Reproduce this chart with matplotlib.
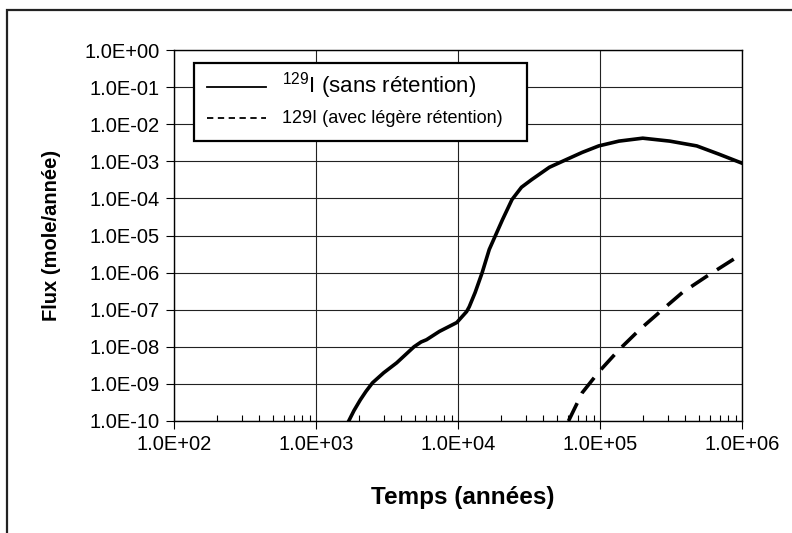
import matplotlib
matplotlib.use("Agg")
import matplotlib.pyplot as plt
from matplotlib.legend_handler import HandlerLine2D
from matplotlib.lines import Line2D
from matplotlib.patches import Rectangle
from matplotlib.ticker import FuncFormatter, LogLocator, NullLocator

plt.rcParams["font.family"] = ["Liberation Sans", "DejaVu Sans"]
plt.rcParams["mathtext.default"] = "regular"

# sans retention (years, mole/year)
t_sans = [1700, 1850, 2050, 2250, 2500, 3000, 3700, 4300, 4900, 5500, 6000,
          7400, 9800, 11500, 12000, 13200, 14800, 16600, 18200, 20600, 24000,
          28000, 33000, 44000, 57500, 75000, 98000, 136000, 200000, 310000,
          480000, 690000, 1000000]
flux_sans = [1.0e-10, 1.9e-10, 3.7e-10, 6.3e-10, 1.07e-9, 2.0e-9, 3.7e-9,
             6.3e-9, 1.0e-8, 1.35e-8, 1.55e-8, 2.6e-8, 4.5e-8, 8.9e-8, 1.2e-7,
             2.9e-7, 1.0e-6, 4.2e-6, 9.3e-6, 2.7e-5, 9.3e-5, 2.0e-4, 3.2e-4,
             6.9e-4, 1.1e-3, 1.74e-3, 2.6e-3, 3.5e-3, 4.2e-3, 3.5e-3, 2.6e-3,
             1.55e-3, 8.9e-4]

# avec legere retention
t_avec = [60000, 75000, 98000, 136000, 190000, 275000, 380000, 560000, 1000000]
flux_avec = [1.0e-10, 5.8e-10, 2.1e-9, 8.3e-9, 2.9e-8, 1.0e-7, 2.9e-7, 7.8e-7, 3.2e-6]

label_sans = r"$^{129}$I (sans rétention)"
label_avec = "129I (avec légère rétention)"

fig = plt.figure(figsize=(7.92, 5.33), dpi=100)
ax = fig.add_axes([174 / 792, 1 - 421 / 533, 568 / 792, 371 / 533])

ax.plot(t_sans, flux_sans, color="k", lw=2.6, solid_joinstyle="round")
ax.plot(t_avec, flux_avec, color="k", lw=2.6, dashes=(5.5, 3))

ax.set_xscale("log")
ax.set_yscale("log")
ax.set_xlim(1e2, 1e6)
ax.set_ylim(1e-10, 1e0)

fmt = FuncFormatter(lambda v, p: f"{v:.1E}")
ax.xaxis.set_major_locator(LogLocator(base=10, numticks=10))
ax.xaxis.set_minor_locator(LogLocator(base=10, subs=range(2, 10), numticks=20))
ax.xaxis.set_major_formatter(fmt)
ax.yaxis.set_major_locator(LogLocator(base=10, numticks=20))
ax.yaxis.set_minor_locator(NullLocator())
ax.yaxis.set_major_formatter(fmt)

ax.tick_params(axis="both", which="major", direction="out", length=6, width=0.8,
               labelsize=14.5, pad=4)
ax.tick_params(axis="x", which="minor", direction="in", length=4, width=0.8)
ax.grid(True, which="major", color="#222222", lw=0.8)
for s in ax.spines.values():
    s.set_linewidth(1.0)

ax.set_xlabel("Temps (années)", fontsize=17.5, fontweight="bold")
ax.set_ylabel("Flux (mole/année)", fontsize=14.5, fontweight="bold")
ax.xaxis.set_label_coords(0.509, -0.175)
ax.yaxis.set_label_coords(-0.199, 0.5)

# legend box drawn separately: Excel leaves extra room under the two rows
ax.add_patch(Rectangle((20 / 568, 280 / 371), 333 / 568, 78 / 371,
                       transform=ax.transAxes, facecolor="white",
                       edgecolor="k", lw=1.6, zorder=4.5))
handles = [Line2D([], [], color="k", lw=1.3),
           Line2D([], [], color="k", lw=1.3, dashes=(3.5, 2.5))]
leg = ax.legend(handles, [label_sans, label_avec], loc="upper left",
                bbox_to_anchor=(0.035, 0.96), borderaxespad=0, fontsize=13,
                frameon=False, handlelength=3.7, handleheight=0.3,
                handletextpad=0.9, borderpad=0.3, labelspacing=0.5,
                handler_map={Line2D: HandlerLine2D(xpad=0.4)})
leg.set_zorder(6)
leg.get_texts()[0].set_fontsize(16)

# outer chart frame
fig.patches.append(Rectangle((7 / 792, -0.05), 1.1, 1 - 10 / 533 + 0.05,
                             transform=fig.transFigure, fill=False,
                             edgecolor="#222222", lw=1.6))

fig.savefig("out.png", dpi=100)
